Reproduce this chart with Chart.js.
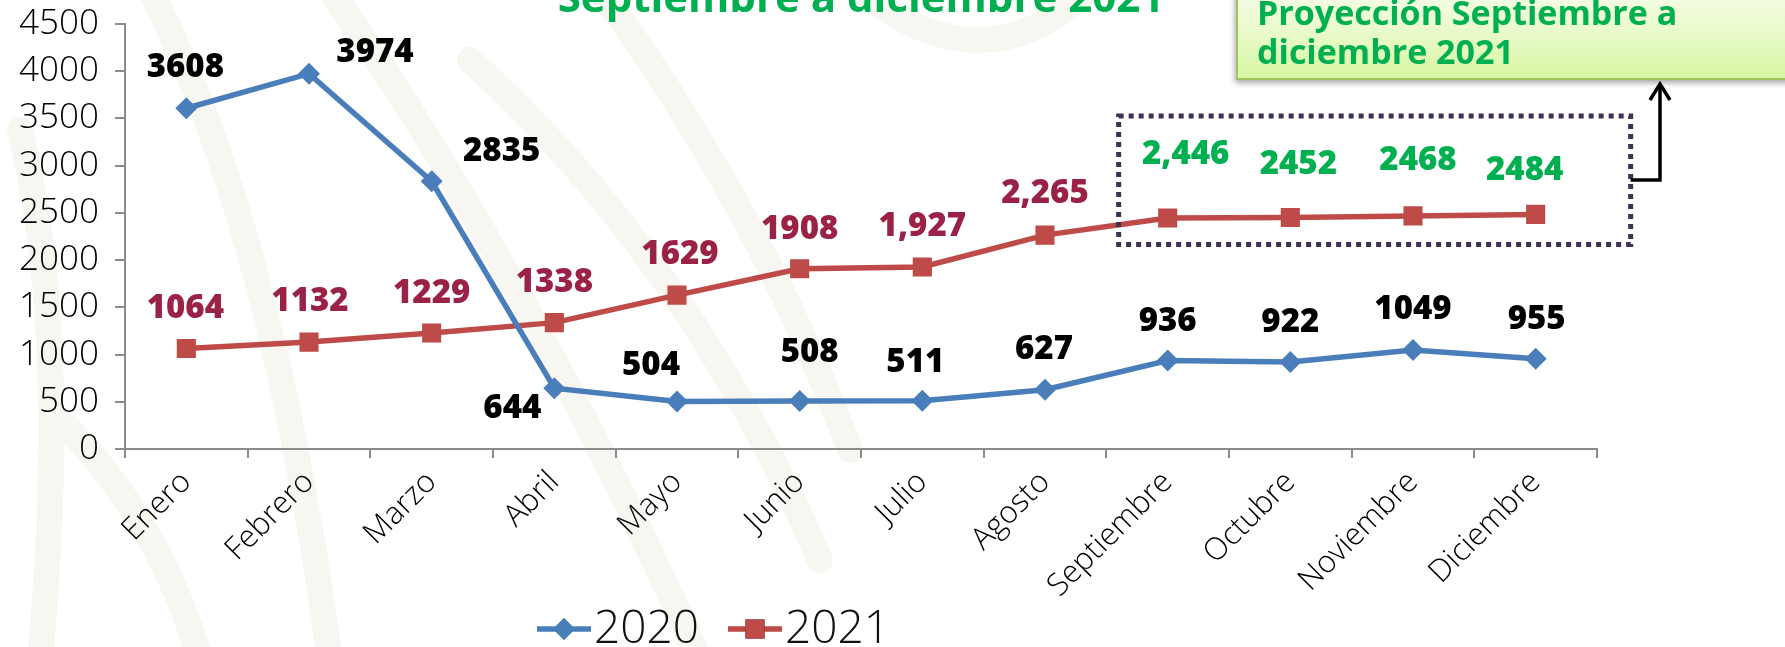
<!DOCTYPE html>
<html>
<head>
<meta charset="utf-8">
<script src="https://cdn.jsdelivr.net/npm/chart.js@4.4.1/dist/chart.umd.min.js"></script>
<style>
  html, body { margin: 0; padding: 0; background: #fff; }
  canvas { display: block; }
</style>
</head>
<body>
<canvas id="chart" width="1785" height="647"></canvas>
<script>
// datos
const months = ["Enero", "Febrero", "Marzo", "Abril", "Mayo", "Junio", "Julio",
  "Agosto", "Septiembre", "Octubre", "Noviembre", "Diciembre"]
const values2020 = [3608, 3974, 2835, 644, 504, 508, 511, 627, 936, 922, 1049, 955]
const values2021 = [1064, 1132, 1229, 1338, 1629, 1908, 1927, 2265, 2446, 2452, 2468, 2484]
const labels2020 = ["3608", "3974", "2835", "644", "504", "508", "511", "627", "936", "922", "1049", "955"]
const labels2021 = ["1064", "1132", "1229", "1338", "1629", "1908", "1,927", "2,265", "2,446", "2452", "2468", "2484"]
const yMin = 0
const yMax = 4500
const yStep = 500
const projectionFrom = 8 // septiembre en adelante = proyección

// posiciones de las etiquetas (dx, dy respecto al punto)
const offsets2020 = [[-1, -41], [66, -21], [70, -30], [-42, 20], [-26, -36], [10, -48],
  [-7, -38], [-1, -40], [0, -39], [0, -39], [0, -40], [1, -39]]
const offsets2021 = [[-1, -40], [1, -40], [0, -39], [0, -40], [3, -41], [0, -39],
  [0, -40], [0, -41], [18, -63], [8, -53], [5, -55], [-11, -44]]

const BLUE = "#4a7ebb"
const RED = "#be4b48"
const MAROON = "#9b2247"
const GREEN = "#00b050"
const AXIS = "#8c8c8c"
const LIGHT = "'Open Sans', 'DejaVu Sans', sans-serif"
const BOLD = "'Open Sans', 'DejaVu Sans', sans-serif"

const background = {
  id: "background",
  beforeDraw(chart) {
    const ctx = chart.ctx
    ctx.save()
    ctx.fillStyle = "#fff"
    ctx.fillRect(0, 0, chart.width, chart.height)
    // marca de agua tenue
    ctx.strokeStyle = "#f8f6f1"
    ctx.lineWidth = 26
    ctx.lineCap = "round"
    const curves = [
      [20, 130, 70, 330, 40, 660],
      [150, -10, 270, 220, 330, 660],
      [330, -10, 520, 260, 700, 660],
      [470, 60, 690, 260, 820, 560],
      [600, -10, 760, 210, 850, 450],
      [860, -10, 980, 90, 1090, -10],
      [60, 420, 160, 520, 200, 660]
    ]
    curves.forEach(c => {
      ctx.beginPath()
      ctx.moveTo(c[0], c[1])
      ctx.quadraticCurveTo(c[2], c[3], c[4], c[5])
      ctx.stroke()
    })
    ctx.restore()
  }
}

const pointLabels = {
  id: "pointLabels",
  afterDatasetsDraw(chart) {
    const ctx = chart.ctx
    ctx.save()
    ctx.font = "800 33px " + BOLD
    ctx.textAlign = "center"
    ctx.textBaseline = "middle"
    const sets = [
      { texts: labels2020, offsets: offsets2020, color: i => "#000" },
      { texts: labels2021, offsets: offsets2021, color: i => (i >= projectionFrom ? GREEN : MAROON) }
    ]
    sets.forEach((s, d) => {
      chart.getDatasetMeta(d).data.forEach((pt, i) => {
        ctx.fillStyle = s.color(i)
        ctx.fillText(s.texts[i], pt.x + s.offsets[i][0], pt.y + s.offsets[i][1])
      })
    })
    ctx.restore()
  }
}

const extras = {
  id: "extras",
  afterDraw(chart) {
    const ctx = chart.ctx
    const x = chart.scales.x
    const y = chart.scales.y
    ctx.save()

    // titulo (cortado arriba)
    ctx.fillStyle = GREEN
    ctx.font = "bold 42px 'Open Sans', sans-serif"
    ctx.textAlign = "center"
    ctx.textBaseline = "alphabetic"
    ctx.fillText("Septiembre a diciembre 2021", 861, 12)

    // recuadro punteado alrededor de la proyección
    const left = x.getPixelForValue(projectionFrom) - 49
    const right = x.getPixelForValue(months.length - 1) + 95
    const top = y.getPixelForValue(3525)
    const bottom = y.getPixelForValue(2165)
    ctx.strokeStyle = "#3f3151"
    ctx.lineWidth = 5
    ctx.setLineDash([5, 5])
    ctx.strokeRect(left, top, right - left, bottom - top)
    ctx.setLineDash([])

    // flecha
    ctx.strokeStyle = "#000"
    ctx.lineWidth = 3.5
    ctx.lineJoin = "miter"
    ctx.beginPath()
    ctx.moveTo(right, 180)
    ctx.lineTo(1660, 180)
    ctx.lineTo(1660, 85)
    ctx.stroke()
    ctx.beginPath()
    ctx.moveTo(1650, 100)
    ctx.lineTo(1660, 84)
    ctx.lineTo(1670, 100)
    ctx.stroke()

    // caja verde
    ctx.save()
    ctx.shadowColor = "rgba(0,0,0,0.35)"
    ctx.shadowBlur = 6
    ctx.shadowOffsetX = -2
    ctx.shadowOffsetY = 4
    const g = ctx.createLinearGradient(0, -10, 0, 79)
    g.addColorStop(0, "#f6fde9")
    g.addColorStop(1, "#d9f7a4")
    ctx.fillStyle = g
    ctx.fillRect(1237, -10, 600, 89)
    ctx.restore()
    ctx.strokeStyle = "#9dc35c"
    ctx.lineWidth = 2
    ctx.strokeRect(1237, -10, 600, 89)
    ctx.fillStyle = GREEN
    ctx.font = "bold 34px 'Open Sans', sans-serif"
    ctx.textAlign = "left"
    ctx.fillText("Proyección Septiembre a", 1257, 25)
    ctx.fillText("diciembre 2021", 1257, 64)

    // leyenda
    const items = [
      { ds: chart.data.datasets[0], x0: 537 },
      { ds: chart.data.datasets[1], x0: 728 }
    ]
    const ly = 629
    items.forEach(it => {
      ctx.strokeStyle = it.ds.borderColor
      ctx.lineWidth = 5.5
      ctx.beginPath()
      ctx.moveTo(it.x0, ly)
      ctx.lineTo(it.x0 + 54, ly)
      ctx.stroke()
      Chart.helpers.drawPoint(ctx, {
        pointStyle: it.ds.pointStyle,
        radius: it.ds.pointRadius,
        borderWidth: 0
      }, it.x0 + 27, ly)
      ctx.fillStyle = it.ds.borderColor
      ctx.fill()
      ctx.fillStyle = "#111"
      ctx.font = "300 46px " + LIGHT
      ctx.textBaseline = "middle"
      ctx.fillText(it.ds.label, it.x0 + 57, ly + 1)
    })

    ctx.restore()
  }
}

new Chart(document.getElementById("chart"), {
  type: "line",
  data: {
    labels: months,
    datasets: [{
      label: "2020",
      data: values2020,
      borderColor: BLUE,
      backgroundColor: BLUE,
      borderWidth: 5.5,
      pointStyle: "rectRot",
      pointRadius: 11,
      pointBackgroundColor: BLUE,
      pointBorderWidth: 0,
      tension: 0
    }, {
      label: "2021",
      data: values2021,
      borderColor: RED,
      backgroundColor: RED,
      borderWidth: 5.5,
      pointStyle: "rect",
      pointRadius: 13.5,
      pointBackgroundColor: RED,
      pointBorderWidth: 0,
      tension: 0
    }]
  },
  options: {
    responsive: false,
    animation: false,
    devicePixelRatio: 1,
    layout: { autoPadding: false, padding: { top: 24, right: 188, left: 0, bottom: 0 } },
    plugins: { legend: { display: false }, tooltip: { enabled: false } },
    scales: {
      x: {
        offset: true,
        grid: { offset: true, drawOnChartArea: false, drawTicks: true, tickLength: 9, color: AXIS, lineWidth: 2 },
        border: { color: AXIS, width: 2 },
        ticks: {
          minRotation: 45, maxRotation: 45, padding: 6, color: "#000",
          font: { family: LIGHT, size: 31, weight: 300 }
        },
        afterFit: s => { s.height = 198; s.paddingLeft = 0; s.paddingRight = 0 }
      },
      y: {
        min: yMin,
        max: yMax,
        grid: { drawOnChartArea: false, drawTicks: true, tickLength: 10, color: AXIS, lineWidth: 2 },
        border: { color: AXIS, width: 2 },
        ticks: {
          stepSize: yStep, padding: 16, color: "#000",
          font: { family: LIGHT, size: 35, weight: 300 },
          callback: v => String(v)
        },
        afterFit: s => { s.width = 125; s.paddingTop = 0; s.paddingBottom = 0 }
      }
    }
  },
  plugins: [background, pointLabels, extras]
})
</script>
</body>
</html>
